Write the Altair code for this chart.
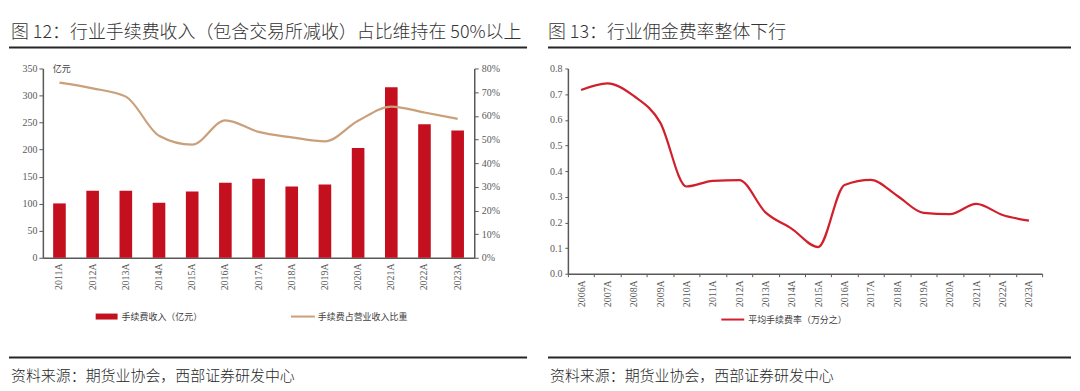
import altair as alt
import pandas as pd

# ---------------- data ----------------
years_left = ["2011A", "2012A", "2013A", "2014A", "2015A", "2016A", "2017A",
              "2018A", "2019A", "2020A", "2021A", "2022A", "2023A"]
fee_income = [100.5, 123.8, 123.8, 101.7, 122.6, 138.5, 145.9,
              131.8, 135.5, 202.9, 315.1, 247.0, 235.4]
fee_share = [74.0, 71.6, 68.1, 51.6, 47.8, 58.1, 53.2,
             50.9, 49.2, 57.9, 63.9, 61.4, 58.7]

years_right = ["2006A", "2007A", "2008A", "2009A", "2010A", "2011A", "2012A",
               "2013A", "2014A", "2015A", "2016A", "2017A", "2018A", "2019A",
               "2020A", "2021A", "2022A", "2023A"]
fee_rate = [0.716, 0.742, 0.693, 0.590, 0.340, 0.362, 0.365, 0.239, 0.175,
            0.104, 0.346, 0.366, 0.304, 0.237, 0.232, 0.272, 0.229, 0.207]

title_left = "图 12：行业手续费收入（包含交易所减收）占比维持在 50%以上"
title_right = "图 13：行业佣金费率整体下行"
source_text = "资料来源：期货业协会，西部证券研发中心"
legend_bar = "手续费收入（亿元）"
legend_share = "手续费占营业收入比重"
legend_rate = "平均手续费率（万分之）"
unit_label = "亿元"

df_left = pd.DataFrame({"year": years_left, "income": fee_income, "share": fee_share})
df_right = pd.DataFrame({"year": years_right, "rate": fee_rate})
one = pd.DataFrame({"k": [0]})

CJK = "Noto Sans CJK SC"
NUM = "Liberation Serif"
BAR_RED = "#C40F1E"
LINE_TAN = "#C9A07A"
LINE_RED = "#D11F2B"
INK = "#262626"
AXIS = "#595959"


def text(s, x, y, size, color=INK, font=CJK, weight=400):
    return alt.Chart(one).mark_text(align="left", baseline="middle", font=font,
                                    fontSize=size, color=color,
                                    fontWeight=weight).encode(
        x=alt.value(x), y=alt.value(y), text=alt.value(s))


def hrule(x1, x2, y, color=INK, width=2):
    return alt.Chart(one).mark_rule(color=color, strokeWidth=width).encode(
        x=alt.value(x1), x2=alt.value(x2), y=alt.value(y))


# ---------------- left panel ----------------
LW, LH = 433, 190
xl = alt.X("year:N", sort=years_left,
           scale=alt.Scale(paddingInner=0.62, paddingOuter=0.31),
           axis=alt.Axis(title=None, labelAngle=-90, ticks=False, labelPadding=5,
                         labelFont=NUM, labelFontSize=10, labelColor=AXIS,
                         domainColor=AXIS, domainWidth=1.5))

bars = alt.Chart(df_left).mark_bar(color=BAR_RED).encode(
    x=xl,
    y=alt.Y("income:Q", scale=alt.Scale(domain=[0, 350]),
            axis=alt.Axis(title=None, values=[0, 50, 100, 150, 200, 250, 300, 350],
                          grid=False, tickSize=4, labelPadding=2, labelFont=NUM,
                          labelFontSize=10, labelColor=AXIS, domainColor=AXIS,
                          tickColor=AXIS, domainWidth=1.5)))

share_line = alt.Chart(df_left).mark_line(color=LINE_TAN, strokeWidth=2.2,
                                          interpolate="monotone").encode(
    x=alt.X("year:N", sort=years_left),
    y=alt.Y("share:Q", scale=alt.Scale(domain=[0, 80]),
            axis=alt.Axis(title=None, orient="right",
                          values=[0, 10, 20, 30, 40, 50, 60, 70, 80],
                          labelExpr="datum.value + '%'", grid=False, tickSize=4,
                          labelPadding=3, labelFont=NUM, labelFontSize=10,
                          labelColor=AXIS, domainColor=AXIS, tickColor=AXIS,
                          domainWidth=1.5)))

left_deco = [
    hrule(-34, 486, -59, color="white", width=1),
    text(title_left, -32, -36, 18, color="#333333", weight=300),
    hrule(-34, 486, -21),
    text(unit_label, 10, 1, 9, color="#404040"),
    alt.Chart(one).mark_rect(color=BAR_RED).encode(
        x=alt.value(53), x2=alt.value(75), y=alt.value(246), y2=alt.value(252)),
    text(legend_bar, 79, 249, 9, color="#404040"),
    hrule(249, 273, 249, color=LINE_TAN, width=2),
    text(legend_share, 276, 249, 9, color="#404040"),
    hrule(-34, 486, 290),
    text(source_text, -32, 309, 15, weight=300),
]

left = alt.layer(bars, share_line, *left_deco).resolve_scale(
    y="independent").properties(width=LW, height=LH)

# ---------------- right panel ----------------
RW, RH = 476, 206
rate_line = alt.Chart(df_right).mark_line(color=LINE_RED, strokeWidth=2.2,
                                          interpolate="monotone").encode(
    x=alt.X("year:N", sort=years_right,
            scale=alt.Scale(paddingInner=0, paddingOuter=0),
            axis=alt.Axis(title=None, labelAngle=-90, tickBand="extent", tickSize=3,
                          labelPadding=3, labelFont=NUM, labelFontSize=10,
                          labelColor=AXIS, domainColor=AXIS, tickColor=AXIS,
                          domainWidth=1.5)),
    y=alt.Y("rate:Q", scale=alt.Scale(domain=[0, 0.8]),
            axis=alt.Axis(title=None, values=[0, 0.1, 0.2, 0.3, 0.4, 0.5, 0.6, 0.7, 0.8],
                          format=".1f", grid=False, tickSize=3, labelPadding=3,
                          labelFont=NUM, labelFontSize=10, labelColor=AXIS,
                          domainColor=AXIS, tickColor=AXIS, domainWidth=1.5)))

right_deco = [
    hrule(-20, 505, -59, color="white", width=1),
    text(title_right, -20, -36, 18, color="#333333", weight=300),
    hrule(-20, 505, -21),
    hrule(154, 177, 252, color=LINE_RED, width=2),
    text(legend_rate, 181, 252, 9, color="#404040"),
    hrule(-20, 505, 290),
    text(source_text, -18, 309, 15, weight=300),
]

right = alt.layer(rate_line, *right_deco).properties(width=RW, height=RH)

chart = alt.hconcat(left, right, spacing=19).properties(padding=0).configure_view(
    stroke=None)

chart.save("out.html", embed_options={"renderer": "svg", "actions": False})
